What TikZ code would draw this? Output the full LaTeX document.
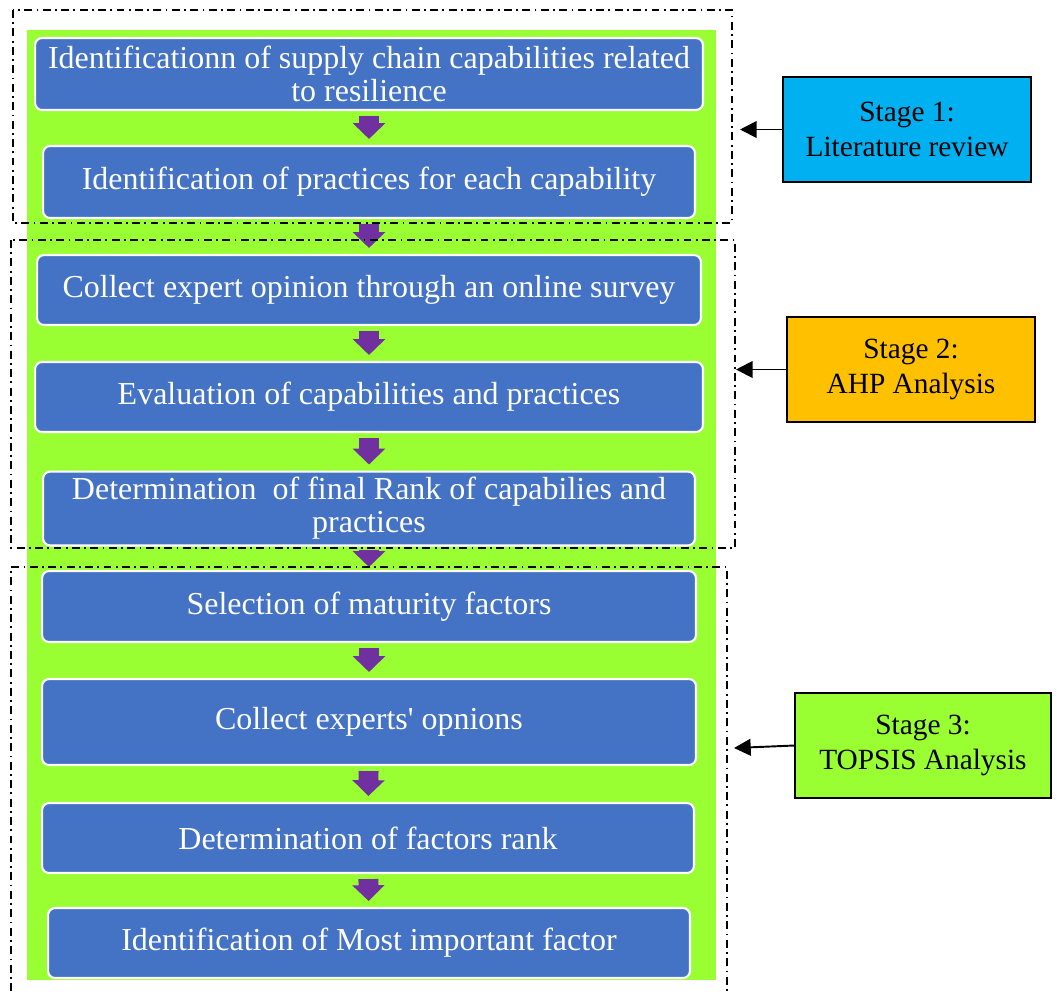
\documentclass[tikz,border=0pt]{standalone}
\usepackage{fontspec}
\setmainfont{Liberation Serif}[Ligatures=TeXOff]
\usepackage{xcolor}
\usetikzlibrary{arrows.meta}

\definecolor{panelgreen}{HTML}{99FF33}
\definecolor{stepblue}{HTML}{4472C4}
\definecolor{flowpurple}{HTML}{7030A0}
\definecolor{stagecyan}{HTML}{00B0F0}
\definecolor{stageorange}{HTML}{FFC000}

\tikzset{
  stepbox/.style={draw=white, line width=1.2pt, rounded corners=4pt, fill=stepblue,
    text=white, align=center, font=\fontsize{18.2}{18.7}\selectfont},
  stagebox/.style={draw=black, line width=0.9pt, align=center, minimum width=4.96cm,
    minimum height=2.1cm, font=\fontsize{16.7}{19.8}\selectfont},
  flowarrow/.style={draw=flowpurple, line width=11.3pt,
    -{Triangle[length=9pt, width=18pt]}, shorten <=0.1cm, shorten >=0.12cm},
  stagearrow/.style={line width=1.1pt, -{Triangle[length=9.5pt, width=9.5pt]}},
  stageframe/.style={line width=0.8pt, dash pattern=on 4.5pt off 2.5pt on 1pt off 2.5pt}
}

\begin{document}
\begin{tikzpicture}[x=0.02cm, y=-0.02cm]
        \useasboundingbox (0,0) rectangle (1057,991);

        % green background panel
        \fill[panelgreen] (27,30) rectangle (716,980);

        % STAGE 1 steps
        \node[stepbox, minimum width=13.36cm, minimum height=1.44cm] (capab) at (369,74)
            {Identificationn of supply chain capabilities related\\to resilience};
        \node[stepbox, minimum width=13.04cm, minimum height=1.44cm] (practice) at (369,182)
            {Identification of practices for each capability};

        % STAGE 2 steps
        \node[stepbox, minimum width=13.28cm, minimum height=1.4cm] (survey) at (369,290)
            {Collect expert opinion through an online survey};
        \node[stepbox, minimum width=13.36cm, minimum height=1.4cm] (evaluate) at (369,397)
            {Evaluation of capabilities and practices};
        \node[stepbox, minimum width=13.04cm, minimum height=1.34cm] (finalrank) at (369,508.5)
            {Determination\ \ of final Rank of capabilies and\\practices};

        % STAGE 3 steps
        \node[stepbox, minimum width=13.08cm, minimum height=1.42cm] (maturity) at (369,606.5)
            {Selection of maturity factors};
        \node[stepbox, minimum width=13.08cm, minimum height=1.72cm] (opinions) at (369,722)
            {Collect experts' opnions};
        \node[stepbox, minimum width=13.04cm, minimum height=1.4cm] (factrank) at (368,838)
            {Determination of factors rank};
        \node[stepbox, minimum width=12.84cm, minimum height=1.4cm] (important) at (369,943)
            {Identification of Most important factor};

        % purple flow arrows
        \draw[flowarrow] (capab) -- (practice);
        \draw[flowarrow] (practice) -- (survey);
        \draw[flowarrow] (survey) -- (evaluate);
        \draw[flowarrow] (evaluate) -- (finalrank);
        \draw[flowarrow, shorten <=0.06cm, shorten >=0.06cm] (finalrank) -- (maturity);
        \draw[flowarrow] (maturity) -- (opinions);
        \draw[flowarrow] (opinions) -- (factrank);
        \draw[flowarrow] (factrank) -- (important);

        % dash-dot stage frames
        \draw[stageframe] (13,10) rectangle (732,223);
        \draw[stageframe] (11,240) rectangle (735,548);
        \draw[stageframe] (11,991) -- (11,567) -- (727,567) -- (727,991);

        % stage labels
        \node[stagebox, fill=stagecyan] (stage1) at (907,129.5) {Stage 1:\\Literature review};
        \node[stagebox, fill=stageorange] (stage2) at (911,369.5) {Stage 2:\\AHP Analysis};
        \node[stagebox, fill=panelgreen, minimum width=5.12cm] (stage3) at (923,745.5) {Stage 3:\\TOPSIS Analysis};

        \coordinate (frame1) at (740,129.5);
        \coordinate (frame2) at (736,369.5);
        \coordinate (frame3) at (734,748);
        \draw[stagearrow] (stage1) -- (frame1);
        \draw[stagearrow] (stage2) -- (frame2);
        \draw[stagearrow] (stage3.west) -- (frame3);

    \end{tikzpicture}
\end{document}
